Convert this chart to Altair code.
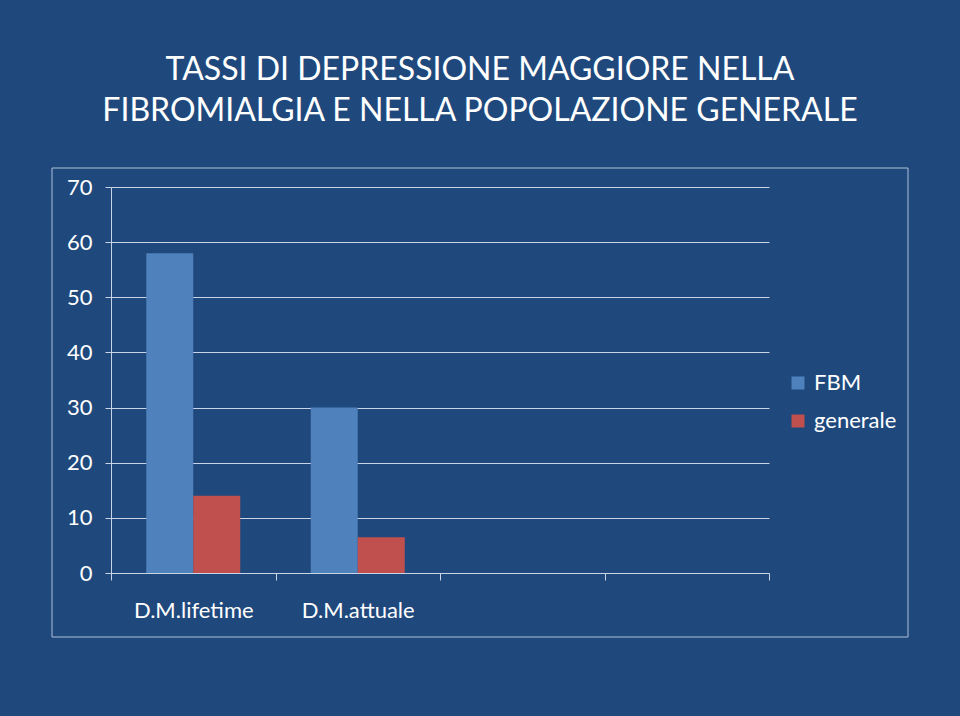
import altair as alt
import pandas as pd

title_lines = ["TASSI DI DEPRESSIONE MAGGIORE NELLA",
               "FIBROMIALGIA E NELLA POPOLAZIONE GENERALE"]
categories = ["D.M.lifetime", "D.M.attuale", " ", "  "]
series = ["FBM", "generale"]
fbm_values = [58, 30]
generale_values = [14, 6.5]
y_ticks = [0, 10, 20, 30, 40, 50, 60, 70]
colors = ["#4F81BD", "#C0504D"]

rows = []
for c, v in zip(categories, fbm_values):
    rows.append({"cat": c, "serie": "FBM", "val": v})
for c, v in zip(categories, generale_values):
    rows.append({"cat": c, "serie": "generale", "val": v})
df = pd.DataFrame(rows)

FONT = "Lato"
LINE = "#C9D5E6"

bars = alt.Chart(df).mark_bar().encode(
    x=alt.X("cat:N", sort=categories,
            scale=alt.Scale(domain=categories, paddingInner=0, paddingOuter=0),
            axis=alt.Axis(title=None, tickBand="extent", tickSize=7, tickColor=LINE,
                          domainColor=LINE, labelColor="white", labelFontSize=22,
                          labelFont=FONT, labelPadding=20, labelAngle=0, grid=False)),
    xOffset=alt.XOffset("serie:N",
                        scale=alt.Scale(domain=series, paddingInner=0, paddingOuter=0.75)),
    y=alt.Y("val:Q", scale=alt.Scale(domain=[0, 70], nice=False),
            axis=alt.Axis(title=None, values=y_ticks, tickSize=6, tickColor=LINE,
                          domainColor=LINE, gridColor=LINE, grid=True,
                          labelColor="white", labelFontSize=22, labelFont=FONT,
                          labelPadding=13)),
    color=alt.Color("serie:N", scale=alt.Scale(domain=series, range=colors),
                    legend=alt.Legend(title=None, orient="none", legendX=676, legendY=185,
                                      symbolType="square", symbolSize=169,
                                      symbolStrokeWidth=0, labelColor="white",
                                      labelFontSize=22, labelFont=FONT, labelOffset=5,
                                      rowPadding=16)),
)

frame = alt.Chart(pd.DataFrame({"k": [0]})).mark_rect(
    fillOpacity=0, stroke="#AFC0D8", strokeWidth=1
).encode(
    x=alt.value(-59), x2=alt.value(797), y=alt.value(-19), y2=alt.value(450)
)

chart = alt.layer(frame, bars).properties(
    width=658, height=386,
    autosize=alt.AutoSizeParams(type="none"),
    padding={"left": 111, "top": 187, "right": 191, "bottom": 143},
    background="#1F497D",
    title=alt.TitleParams(text=title_lines, font=FONT, fontSize=32, fontWeight="normal",
                          color="white", anchor="middle", frame="group", dx=40,
                          baseline="alphabetic", offset=15, lineHeight=41),
).configure_view(strokeOpacity=0)

chart.save("out.html", embed_options={"renderer": "svg", "actions": False})
